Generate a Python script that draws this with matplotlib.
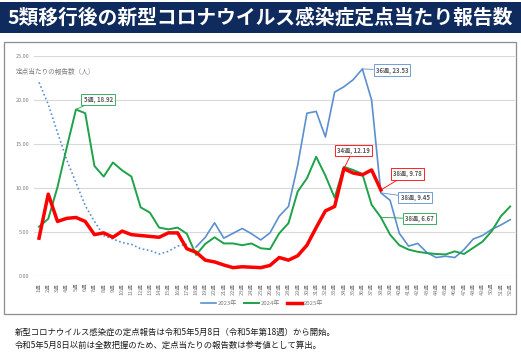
import matplotlib
matplotlib.use('Agg')
import matplotlib.pyplot as plt
from matplotlib.patches import Rectangle
import numpy as np

plt.rcParams['font.family'] = ['Noto Sans CJK JP', 'DejaVu Sans']

weeks = list(range(1, 53))
week_labels = [f'{w}週' for w in weeks]

# 2023年: 第1～17週は参考値（点線）、第18週から定点報告
weeks_2023_ref = list(range(1, 18))
y2023_ref = [22.0, 19.5, 16.3, 13.2, 10.6, 8.0, 6.2, 4.6, 4.2, 3.8, 3.6, 3.1,
             2.9, 2.5, 2.8, 3.4, 3.6]
weeks_2023 = list(range(18, 53))
y2023 = [3.3, 4.4, 6.05, 4.3, 4.85, 5.4, 4.8, 4.1, 4.9, 6.8, 7.9, 12.6,
         18.5, 18.7, 15.8, 20.9, 21.5, 22.3, 23.53, 20.0, 9.45, 8.6, 4.85,
         3.4, 3.7, 2.65, 2.1, 2.25, 2.1, 3.0, 4.2, 4.6, 5.3, 5.8, 6.4]
y2024 = [5.6, 6.5, 10.1, 14.6, 18.92, 18.5, 12.5, 11.3, 12.9, 12.0, 11.3,
         7.8, 7.2, 5.5, 5.3, 5.5, 4.8, 2.4, 3.65, 4.4, 3.7, 3.7, 3.5, 3.7,
         3.15, 3.05, 4.85, 6.0, 9.6, 11.1, 13.55, 11.4, 8.9, 12.4, 12.05,
         11.6, 8.1, 6.67, 4.7, 3.5, 3.0, 2.75, 2.6, 2.5, 2.45, 2.8, 2.5, 3.2,
         3.9, 5.1, 6.8, 7.9]
weeks_2025 = list(range(1, 39))
y2025 = [4.3, 9.3, 6.2, 6.55, 6.65, 6.2, 4.7, 4.9, 4.4, 5.1, 4.7, 4.6, 4.5,
         4.4, 4.9, 4.9, 3.1, 2.7, 1.8, 1.6, 1.25, 0.95, 1.05, 1.0, 0.95, 1.2,
         2.1, 1.8, 2.3, 3.5, 5.5, 7.4, 7.9, 12.19, 11.7, 11.5, 12.05, 9.78]

c2023 = '#5b8fcf'
c2024 = '#1ea24a'
c2025 = '#ff0000'

fig = plt.figure(figsize=(5.21, 3.6), dpi=100)

# タイトル帯
fig.patches.append(Rectangle((0, 1 - 33 / 360), 1, 31 / 360, transform=fig.transFigure,
                             facecolor='#0f2a5c', edgecolor='none', zorder=0))
fig.text(0.5, 1 - 18 / 360, '5類移行後の新型コロナウイルス感染症定点当たり報告数',
         ha='center', va='center', color='white', fontsize=14.2, fontweight='bold')

# グラフ枠
fig.patches.append(Rectangle((4 / 521, 1 - 314 / 360), 512 / 521, 272 / 360,
                             transform=fig.transFigure, facecolor='none',
                             edgecolor='#8c8c8c', lw=0.9, zorder=0))

ax = fig.add_axes([34.4 / 521, 1 - 276 / 360, 480.4 / 521, 220 / 360])
ax.plot(weeks_2023_ref, y2023_ref, color=c2023, lw=1.2, ls=(0, (1, 1.5)))
ax.plot(weeks_2023, y2023, color=c2023, lw=1.2, label='2023年')
ax.plot(weeks, y2024, color=c2024, lw=1.4, label='2024年')
ax.plot(weeks_2025, y2025, color=c2025, lw=2.5, label='2025年')

ax.set_xlim(0.5, 52.5)
ax.set_ylim(0, 25)
ax.set_yticks(np.arange(0, 26, 5))
ax.set_yticklabels([f'{v:.2f}' for v in np.arange(0, 26, 5)])
ax.set_xticks(weeks)
ax.set_xticklabels(week_labels, rotation=90)
ax.tick_params(axis='both', length=0, labelsize=4, labelcolor='#7f7f7f')
ax.tick_params(axis='x', pad=5)
ax.grid(axis='y', color='#d9d9d9', lw=0.8)
ax.set_axisbelow(True)
for s in ax.spines.values():
    s.set_visible(False)

fig.text(16 / 521, 1 - 72 / 360, '定点当たりの報告数（人）', fontsize=4.8,
         color='#7f7f7f', va='center')

# データラベル
labels = [
    ('5週, 18.92', 5, 18.92, 7.4, 20.1, c2024),
    ('36週, 23.53', 36, 23.53, 39.2, 23.4, c2023),
    ('34週, 12.19', 34, 12.19, 35.0, 14.3, c2025),
    ('38週, 9.78', 38, 9.78, 40.9, 11.6, c2025),
    ('38週, 9.45', 38, 9.45, 41.7, 8.9, c2023),
    ('38週, 6.67', 38, 6.67, 42.2, 6.5, c2024),
]
for txt, x, y, tx, ty, c in labels:
    ax.annotate(txt, xy=(x, y), xytext=(tx, ty), ha='center', va='center',
                fontsize=4.3, fontweight='bold', color='#595959',
                bbox=dict(boxstyle='square,pad=0.35', fc='white', ec=c, lw=0.6),
                arrowprops=dict(arrowstyle='-', color=c, lw=0.6,
                                shrinkA=0, shrinkB=0))

fig.legend(loc='center', bbox_to_anchor=(262 / 521, 1 - 303 / 360), ncol=3,
           frameon=False, fontsize=4.3, handlelength=2.5, columnspacing=1.2,
           handletextpad=0.3, labelcolor='#7f7f7f')

fig.text(15 / 521, 1 - 332 / 360,
         '新型コロナウイルス感染症の定点報告は令和5年5月8日（令和5年第18週）から開始。',
         fontsize=6, va='center', color='#1a1a1a')
fig.text(15 / 521, 1 - 345.5 / 360,
         '令和5年5月8日以前は全数把握のため、定点当たりの報告数は参考値として算出。',
         fontsize=6, va='center', color='#1a1a1a')

fig.savefig('out.png', dpi=100)
